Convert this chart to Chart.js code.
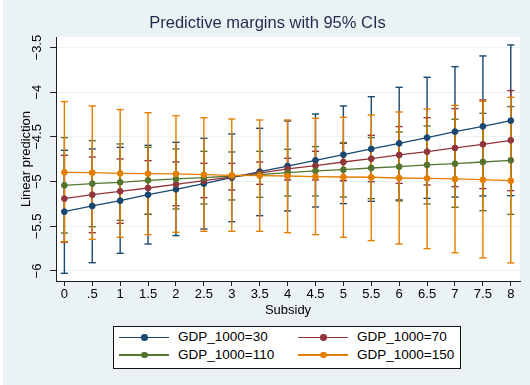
<!DOCTYPE html>
<html><head><meta charset="utf-8">
<script src="https://cdn.jsdelivr.net/npm/chart.js@4.4.1/dist/chart.umd.min.js"></script>
<style>
html,body{margin:0;padding:0;background:#fff;width:530px;height:385px;overflow:hidden;}
#wrap{position:absolute;left:3px;top:0;width:527px;height:385px;background:#eaf2f3;}
canvas{display:block;}
#legend{position:absolute;left:113px;top:326px;width:346px;height:41px;background:#fff;border:1px solid #111;font-family:'Liberation Sans',Arial,sans-serif;font-size:13.5px;color:#000;}
.item{position:absolute;height:16px;width:175px;}
.ln{position:absolute;left:0;top:7.3px;width:50px;height:1.4px;}
.dot{position:absolute;left:21.7px;top:4.7px;width:6.6px;height:6.6px;border-radius:50%;}
.tx{position:absolute;left:58.7px;top:0;line-height:16px;white-space:nowrap;}
</style></head>
<body>
<div id="wrap"><canvas id="c" width="527" height="385"></canvas></div>
<div id="legend"></div>
<script>
// ---- data ----
const subsidy = [0, 0.5, 1, 1.5, 2, 2.5, 3, 3.5, 4, 4.5, 5, 5.5, 6, 6.5, 7, 7.5, 8];
const xTickLabels = ['0', '.5', '1', '1.5', '2', '2.5', '3', '3.5', '4', '4.5', '5', '5.5', '6', '6.5', '7', '7.5', '8'];
const yTicks = [-6, -5.5, -5, -4.5, -4, -3.5];
const yTickLabels = ['\u22126', '\u22125.5', '\u22125', '\u22124.5', '\u22124', '\u22123.5'];
const seriesNames = ['GDP_1000=30', 'GDP_1000=70', 'GDP_1000=110', 'GDP_1000=150'];
const seriesColors = ['#1a476f', '#90353b', '#55752f', '#e37e00'];

const gdp30   = [-5.336, -5.272, -5.213, -5.146, -5.086, -5.022, -4.955, -4.888, -4.825, -4.761, -4.698, -4.634, -4.571, -4.507, -4.440, -4.381, -4.317];
const gdp30Lo = [-6.026, -5.907, -5.802, -5.698, -5.604, -5.530, -5.448, -5.381, -5.328, -5.284, -5.246, -5.220, -5.205, -5.187, -5.172, -5.160, -5.157];
const gdp30Hi = [-4.649, -4.634, -4.616, -4.593, -4.560, -4.515, -4.466, -4.403, -4.321, -4.243, -4.153, -4.049, -3.944, -3.832, -3.713, -3.593, -3.470];

const gdp70   = [-5.190, -5.146, -5.108, -5.071, -5.030, -4.989, -4.948, -4.905, -4.858, -4.821, -4.780, -4.743, -4.701, -4.664, -4.623, -4.582, -4.537];
const gdp70Lo = [-5.679, -5.571, -5.466, -5.366, -5.269, -5.179, -5.093, -5.030, -4.981, -4.980, -4.989, -5.000, -5.019, -5.037, -5.056, -5.078, -5.101];
const gdp70Hi = [-4.705, -4.724, -4.746, -4.765, -4.780, -4.795, -4.795, -4.780, -4.739, -4.660, -4.571, -4.481, -4.384, -4.284, -4.183, -4.086, -3.981];

const gdp110   = [-5.041, -5.022, -5.007, -4.985, -4.970, -4.955, -4.937, -4.922, -4.900, -4.880, -4.866, -4.847, -4.832, -4.813, -4.799, -4.780, -4.761];
const gdp110Lo = [-5.575, -5.504, -5.433, -5.366, -5.306, -5.250, -5.205, -5.175, -5.160, -5.160, -5.172, -5.190, -5.216, -5.250, -5.287, -5.325, -5.366];
const gdp110Hi = [-4.507, -4.541, -4.578, -4.616, -4.634, -4.660, -4.668, -4.660, -4.638, -4.608, -4.563, -4.507, -4.444, -4.377, -4.302, -4.235, -4.160];

const gdp150   = [-4.896, -4.899, -4.907, -4.910, -4.914, -4.922, -4.929, -4.933, -4.937, -4.944, -4.948, -4.951, -4.959, -4.963, -4.970, -4.978, -4.989];
const gdp150Lo = [-5.672, -5.646, -5.623, -5.593, -5.567, -5.556, -5.556, -5.556, -5.571, -5.593, -5.623, -5.660, -5.698, -5.750, -5.795, -5.854, -5.910];
const gdp150Hi = [-4.104, -4.153, -4.194, -4.228, -4.261, -4.284, -4.299, -4.310, -4.310, -4.291, -4.280, -4.254, -4.220, -4.187, -4.146, -4.101, -4.056];

const means = [gdp30, gdp70, gdp110, gdp150];
const lows  = [gdp30Lo, gdp70Lo, gdp110Lo, gdp150Lo];
const highs = [gdp30Hi, gdp70Hi, gdp110Hi, gdp150Hi];

// ---- datasets ----
const FONT = "'Liberation Sans', Arial, Helvetica, sans-serif";
const datasets = [];
seriesNames.forEach((name, i) => {
  datasets.push({
    label: name, isSeries: true,
    data: subsidy.map((x, j) => ({x: x, y: means[i][j]})),
    borderColor: seriesColors[i], backgroundColor: seriesColors[i],
    borderWidth: 1.3, pointRadius: 2.9, pointBorderWidth: 1,
    pointBackgroundColor: seriesColors[i], pointBorderColor: seriesColors[i],
    pointStyle: 'circle', tension: 0, order: 3 - i
  });
});
seriesNames.forEach((name, i) => {
  const pts = [];
  subsidy.forEach((x, j) => {
    pts.push({x: x, y: lows[i][j]}, {x: x, y: highs[i][j]}, {x: x, y: null});
  });
  datasets.push({
    label: name + ' CI', isSeries: false,
    data: pts, showLine: true, spanGaps: false,
    borderColor: seriesColors[i], backgroundColor: seriesColors[i],
    borderWidth: 1.4, pointStyle: 'line', pointRadius: 3.6, pointBorderWidth: 1.4,
    pointBorderColor: seriesColors[i], order: 7 - i
  });
});

const plotBg = {
  id: 'plotBg',
  beforeDraw(chart) {
    const a = chart.chartArea, ctx = chart.ctx;
    ctx.save(); ctx.fillStyle = '#ffffff';
    ctx.fillRect(a.left, a.top, a.right - a.left, a.bottom - a.top);
    ctx.restore();
  }
};

const chart = new Chart(document.getElementById('c'), {
  type: 'line',
  data: {datasets: datasets},
  plugins: [plotBg],
  options: {
    responsive: false, animation: false, devicePixelRatio: 1, events: [],
    layout: {padding: {left: 12, right: 10, top: 0, bottom: 64}},
    plugins: {
      legend: {display: false}, tooltip: {enabled: false},
      title: {display: true, text: 'Predictive margins with 95% CIs', color: '#1f2c4e',
        font: {family: FONT, size: 16.5, weight: 'normal'}, padding: {top: 13.6, bottom: 3.6}}
    },
    scales: {
      x: {
        type: 'linear', position: 'bottom', min: -0.15, max: 8.165,
        afterFit: s => { s.height = 40; },
        afterBuildTicks: s => { s.ticks = subsidy.map(v => ({value: v})); },
        ticks: {autoSkip: false, maxRotation: 0, minRotation: 0, padding: 1, color: '#000',
          font: {family: FONT, size: 13},
          callback: v => xTickLabels[subsidy.indexOf(v)]},
        grid: {drawOnChartArea: false, drawTicks: true, tickLength: 5, tickColor: '#222', tickWidth: 1},
        border: {display: true, color: '#222', width: 1},
        title: {display: true, text: 'Subsidy', color: '#000', font: {family: FONT, size: 13},
          padding: {top: 0, bottom: 3.2}}
      },
      y: {
        type: 'linear', position: 'left', min: -6.112, max: -3.381,
        afterFit: s => { s.width = 41; },
        afterBuildTicks: s => { s.ticks = yTicks.map(v => ({value: v})); },
        ticks: {minRotation: 90, maxRotation: 90, crossAlign: 'center', padding: -0.3, color: '#000',
          font: {family: FONT, size: 13},
          callback: v => yTickLabels[yTicks.indexOf(v)]},
        grid: {color: '#eaf2f3', lineWidth: 1, drawTicks: true, tickLength: 6, tickColor: '#222', tickWidth: 1},
        border: {display: true, color: '#222', width: 1},
        title: {display: true, text: 'Linear prediction', color: '#000', font: {family: FONT, size: 13},
          padding: {top: 3.2, bottom: 0}}
      }
    }
  }
});

// ---- HTML legend built from the chart's datasets ----
const legend = document.getElementById('legend');
chart.data.datasets.filter(d => d.isSeries).forEach((d, i) => {
  const col = i % 2, row = Math.floor(i / 2);
  const item = document.createElement('div');
  item.className = 'item';
  item.style.left = (5.3 + col * 179) + 'px';
  item.style.top = (2.3 + row * 17.7) + 'px';
  const ln = document.createElement('span'); ln.className = 'ln'; ln.style.background = d.borderColor;
  const dot = document.createElement('span'); dot.className = 'dot'; dot.style.background = d.borderColor;
  const tx = document.createElement('span'); tx.className = 'tx'; tx.textContent = d.label;
  item.appendChild(ln); item.appendChild(dot); item.appendChild(tx);
  legend.appendChild(item);
});
</script>
</body></html>
